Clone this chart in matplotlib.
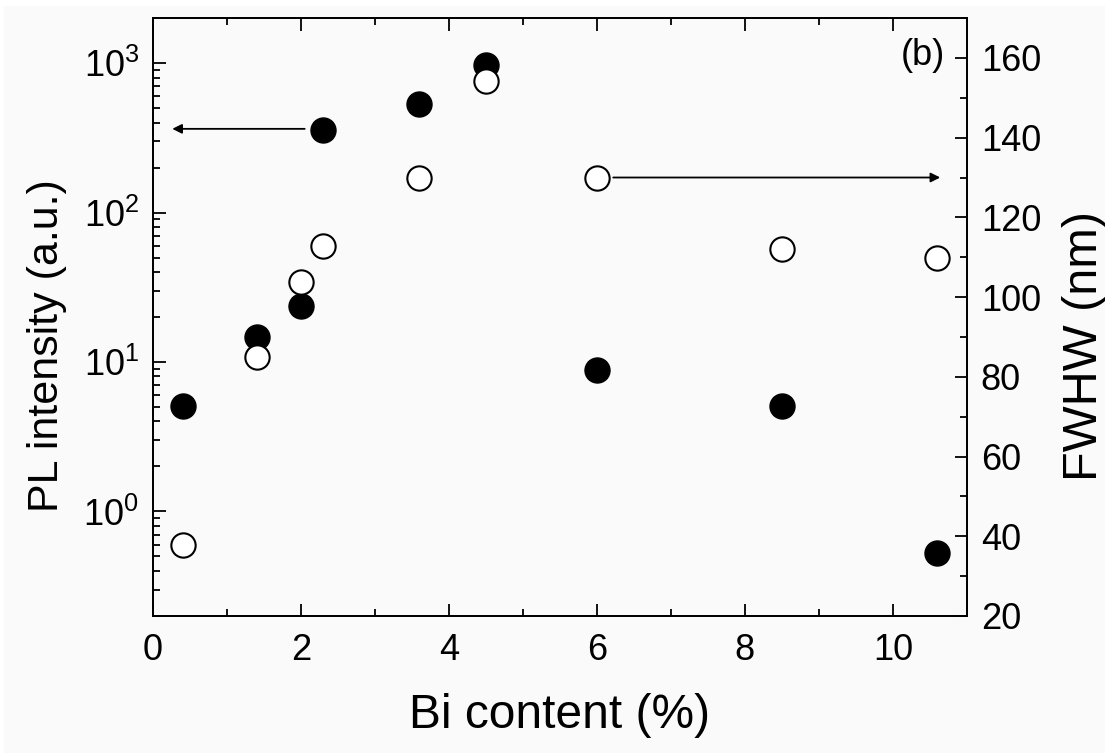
import matplotlib
matplotlib.use("Agg")
import matplotlib.pyplot as plt
from matplotlib.patches import Rectangle
from matplotlib.ticker import MultipleLocator, LogLocator, NullFormatter, FixedLocator

plt.rcParams['font.family'] = ['Liberation Sans', 'DejaVu Sans']
plt.rcParams['mathtext.fontset'] = 'custom'
plt.rcParams['mathtext.rm'] = 'Liberation Sans'
plt.rcParams['mathtext.it'] = 'Liberation Sans:italic'

# Bi content (%)
bi_content = [0.4, 1.4, 2.0, 2.3, 3.6, 4.5, 6.0, 8.5, 10.6]
# PL intensity (a.u.), left log axis
pl_intensity = [5.1, 14.7, 23.6, 357, 533, 970, 8.9, 5.1, 0.53]
# FWHM (nm), right axis
fwhm = [37.8, 84.9, 103.7, 112.7, 130.0, 154.3, 130.0, 112.0, 109.7]

log_ticks = [1e0, 1e1, 1e2, 1e3]
log_labels = [r'$\mathregular{10^{0}}$', r'$\mathregular{10^{1}}$',
              r'$\mathregular{10^{2}}$', r'$\mathregular{10^{3}}$']

bg = '#fafafa'
fig = plt.figure(figsize=(11.05, 7.53), dpi=100, facecolor='white')
# light panel behind the plot, leaving a thin white margin top-left
fig.patches.append(Rectangle((4 / 1105, 0), 1, 1 - 6 / 753, transform=fig.transFigure,
                             facecolor=bg, edgecolor='none', zorder=-10))

ax = fig.add_axes([0.1385, 0.182, 0.7365, 0.794])
ax.set_facecolor(bg)
ax2 = ax.twinx()

ax.set_xlim(0, 11)
ax.set_yscale('log')
ax.set_ylim(0.2, 2000)
ax2.set_ylim(20, 170)

ax.plot(bi_content, pl_intensity, 'o', ms=18, mfc='black', mec='black', zorder=3)
ax2.plot(bi_content, fwhm, 'o', ms=17.5, mfc='white', mec='black', mew=1.5, zorder=4)

# arrows pointing to the axis each series belongs to
ax.annotate('', xy=(0.26, 363), xytext=(2.05, 363),
            arrowprops=dict(arrowstyle='-|>', mutation_scale=14, lw=1.3,
                            color='black', shrinkA=0, shrinkB=0))
ax2.annotate('', xy=(10.64, 130), xytext=(6.22, 130),
             arrowprops=dict(arrowstyle='-|>', mutation_scale=14, lw=1.3,
                             color='black', shrinkA=0, shrinkB=0))

ax.text(0.946, 0.938, '(b)', transform=ax.transAxes, ha='center', va='center',
        fontsize=26)

# ticks
ax.xaxis.set_major_locator(MultipleLocator(2))
ax.xaxis.set_minor_locator(MultipleLocator(1))
ax.yaxis.set_major_locator(FixedLocator(log_ticks))
ax.set_yticklabels(log_labels)
ax.yaxis.set_minor_locator(LogLocator(base=10, subs=range(2, 10)))
ax.yaxis.set_minor_formatter(NullFormatter())
ax2.yaxis.set_major_locator(MultipleLocator(20))
ax2.yaxis.set_minor_locator(MultipleLocator(10))

ax.tick_params(axis='x', which='both', direction='in', top=True, bottom=True,
               labelsize=26, pad=12)
ax.tick_params(axis='y', which='both', direction='in', left=True, right=False,
               labelsize=26, pad=10)
ax2.tick_params(axis='y', which='both', direction='in', right=True, left=False,
                labelsize=26, pad=10)
for a in (ax, ax2):
    a.tick_params(which='major', length=9, width=1.3)
    a.tick_params(which='minor', length=5, width=1.3)
    for s in a.spines.values():
        s.set_linewidth(1.3)

ax.set_xlabel('Bi content (%)', fontsize=34.5, labelpad=18)
ax.set_ylabel('PL intensity (a.u.)', fontsize=31)
ax2.set_ylabel('FWHW (nm)', fontsize=35)
ax.yaxis.set_label_coords(-0.106, 0.4515)
ax2.yaxis.set_label_coords(1.117, 0.4515)

fig.savefig('out.png', dpi=100, facecolor='white')
